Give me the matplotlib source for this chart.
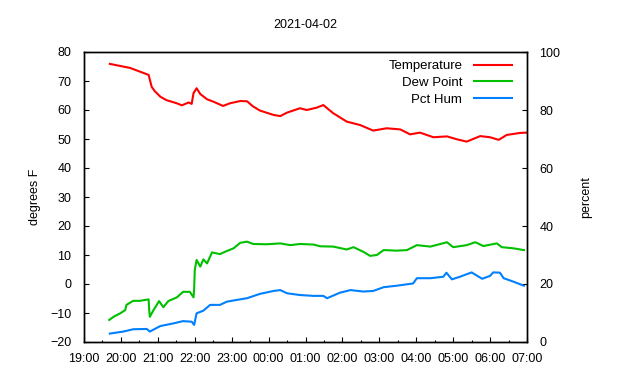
import numpy as np
import matplotlib
matplotlib.use('Agg')
import matplotlib.pyplot as plt
from matplotlib.ticker import MultipleLocator

plt.rcParams['font.family'] = ['Liberation Sans', 'DejaVu Sans']
plt.rcParams['font.size'] = 9

############################################################################
#                               Data
############################################################################

title = '2021-04-02'
hour_labels = ['19:00', '20:00', '21:00', '22:00', '23:00', '00:00', '01:00',
               '02:00', '03:00', '04:00', '05:00', '06:00', '07:00']

temp_time = ['19:42', '20:15', '20:45', '20:50', '20:55', '21:04', '21:14', '21:31',
             '21:39', '21:50', '21:55', '21:58', '22:03', '22:09', '22:20', '22:30',
             '22:46', '22:57', '23:14', '23:25', '23:35', '23:46', '00:08', '00:19',
             '00:30', '00:51', '01:02', '01:18', '01:29', '01:45', '02:07', '02:29',
             '02:50', '03:12', '03:34', '03:50', '04:06', '04:28', '04:50', '05:06',
             '05:22', '05:44', '06:00', '06:14', '06:27', '06:49', '07:00']
temp_val = [75.9, 74.5, 72.1, 68.0, 66.5, 64.6, 63.4, 62.3,
            61.6, 62.6, 62.1, 65.8, 67.5, 65.5, 63.7, 62.9,
            61.4, 62.3, 63.1, 63.0, 61.2, 59.8, 58.3, 57.9,
            59.1, 60.6, 60.0, 60.8, 61.7, 58.9, 56.0, 54.8,
            52.9, 53.7, 53.3, 51.6, 52.2, 50.6, 50.9, 49.9,
            49.1, 51.0, 50.6, 49.7, 51.4, 52.1, 52.2]

dew_time = ['19:41', '19:48', '19:59', '20:07', '20:09', '20:20', '20:31', '20:45',
            '20:46', '20:47', '20:53', '21:02', '21:09', '21:17', '21:31', '21:41',
            '21:52', '21:58', '21:59', '22:00', '22:03', '22:09', '22:14', '22:20',
            '22:28', '22:41', '22:49', '23:03', '23:14', '23:25', '23:35', '23:57',
            '00:19', '00:35', '00:51', '01:13', '01:24', '01:45', '02:07', '02:18',
            '02:34', '02:45', '02:56', '03:07', '03:28', '03:45', '04:01', '04:23',
            '04:50', '05:00', '05:22', '05:36', '05:49', '06:11', '06:19', '06:38',
            '06:55']
dew_val = [-12.4, -11.3, -10.1, -9.0, -7.2, -5.8, -5.8, -5.3,
           -9.0, -11.3, -9.0, -5.9, -8.0, -5.9, -4.6, -2.7,
           -2.7, -4.6, -2.0, 4.8, 8.3, 6.0, 8.5, 7.1,
           10.9, 10.3, 11.1, 12.3, 14.2, 14.6, 13.8, 13.7,
           14.0, 13.4, 13.8, 13.6, 13.0, 12.9, 11.9, 12.7,
           11.1, 9.7, 10.0, 11.7, 11.5, 11.7, 13.4, 12.9,
           14.4, 12.7, 13.4, 14.4, 13.1, 14.0, 12.7, 12.3,
           11.7]

hum_time = ['19:42', '20:04', '20:20', '20:42', '20:47', '21:04', '21:25', '21:41',
            '21:55', '21:59', '22:03', '22:14', '22:25', '22:41', '22:52', '23:08',
            '23:25', '23:46', '00:08', '00:19', '00:30', '00:51', '01:13', '01:29',
            '01:35', '01:56', '02:13', '02:34', '02:50', '03:07', '03:28', '03:55',
            '04:01', '04:23', '04:44', '04:49', '04:58', '05:11', '05:30', '05:47',
            '06:00', '06:05', '06:16', '06:22', '06:38', '06:55']
hum_val = [2.9, 3.6, 4.4, 4.5, 3.6, 5.5, 6.4, 7.2,
           7.0, 5.9, 9.9, 10.8, 12.8, 12.8, 13.9, 14.5,
           15.1, 16.6, 17.6, 17.9, 16.8, 16.2, 15.9, 15.9,
           15.1, 17.0, 17.9, 17.4, 17.6, 18.9, 19.4, 20.2,
           22.0, 22.0, 22.5, 23.9, 21.6, 22.5, 24.0, 21.8,
           22.8, 24.0, 23.9, 22.0, 20.8, 19.4]

############################################################################
#                               Helpers
############################################################################

def hours_since_start(times, start=19):
    # "HH:MM" -> hours after 19:00, wrapping past midnight
    out = []
    for s in times:
        h, m = s.split(':')
        h = int(h)
        if h < start:
            h += 24
        out.append(h - start + int(m) / 60.0)
    return np.array(out)

############################################################################
#                               Plot
############################################################################

fig = plt.figure(figsize=(6.4, 3.8), dpi=100)
ax = fig.add_axes([84 / 640, 38 / 380, 443 / 640, 290 / 380])
ax2 = ax.twinx()

l1, = ax.plot(hours_since_start(temp_time), temp_val, color='#ff0000', lw=1.5,
              label='Temperature')
l2, = ax.plot(hours_since_start(dew_time), dew_val, color='#00c000', lw=1.5,
              label='Dew Point')
l3, = ax2.plot(hours_since_start(hum_time), hum_val, color='#0080ff', lw=1.5,
               label='Pct Hum')

ax.set_xlim(0, 12)
ax.set_ylim(-20, 80)
ax2.set_ylim(0, 100)
ax.set_xticks(range(len(hour_labels)))
ax.set_xticklabels(hour_labels)
ax.xaxis.set_minor_locator(MultipleLocator(0.5))
ax.yaxis.set_major_locator(MultipleLocator(10))
ax2.yaxis.set_major_locator(MultipleLocator(20))

ax.tick_params(axis='x', which='major', direction='in', length=3.5, width=0.8,
               pad=8, top=False)
ax.tick_params(axis='x', which='minor', direction='in', length=1.8, width=0.8,
               top=False)
ax.tick_params(axis='y', direction='in', length=3.5, width=0.8, pad=9, right=False)
ax2.tick_params(axis='y', direction='in', length=3.5, width=0.8, pad=9)

for a in (ax, ax2):
    for sp in a.spines.values():
        sp.set_linewidth(1.0)

ax.set_ylabel('degrees F', labelpad=7)
ax2.set_ylabel('percent', labelpad=14)
ax.set_title(title, pad=17, fontsize=9)

# markerfirst=False right-aligns the rows, so labels end flush like gnuplot
leg = ax2.legend(handles=[l1, l2, l3], loc='upper right', frameon=False,
                 markerfirst=False, handlelength=2.9, handletextpad=0.9,
                 labelspacing=0.35, borderaxespad=0.2, fontsize=9.5,
                 bbox_to_anchor=(0.985, 1.0))

fig.savefig('out.png', dpi=100)
